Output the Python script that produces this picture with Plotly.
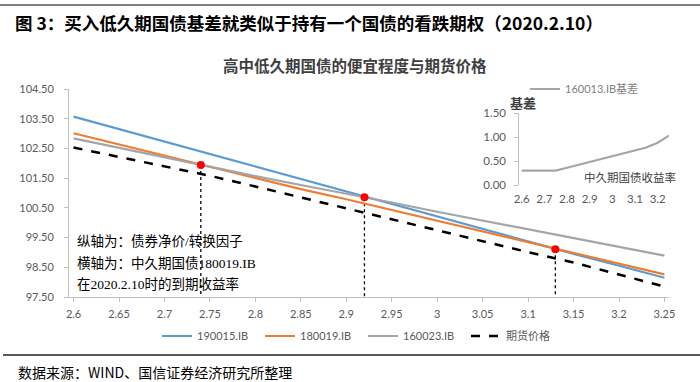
import plotly.graph_objects as go

# ---------------- data ----------------
yields = [2.60, 2.65, 2.70, 2.75, 2.80, 2.85, 2.90, 2.95, 3.00, 3.05, 3.10, 3.15, 3.20, 3.25]
bond_190015 = [103.57, 103.15, 102.72, 102.30, 101.88, 101.46, 101.03, 100.61, 100.19, 99.77, 99.36, 98.95, 98.55, 98.15]
bond_180019 = [103.01, 102.63, 102.25, 101.87, 101.50, 101.13, 100.79, 100.43, 100.07, 99.70, 99.33, 98.97, 98.61, 98.26]
bond_160023 = [102.84, 102.52, 102.20, 101.88, 101.57, 101.27, 100.98, 100.68, 100.37, 100.07, 99.77, 99.47, 99.18, 98.89]
futures_px = [102.53, 102.22, 101.90, 101.58, 101.22, 100.85, 100.48, 100.11, 99.74, 99.37, 99.01, 98.66, 98.26, 97.85]

switch_x = [2.74, 2.92, 3.13]
switch_y = [101.94, 100.86, 99.11]

basis_160013 = [0.30, 0.30, 0.30, 0.30, 0.36, 0.42, 0.48, 0.53, 0.59, 0.65, 0.71, 0.78, 0.88, 1.03]

x_ticks = [2.60, 2.65, 2.70, 2.75, 2.80, 2.85, 2.90, 2.95, 3.00, 3.05, 3.10, 3.15, 3.20, 3.25]
x_ticktext = ["2.6", "2.65", "2.7", "2.75", "2.8", "2.85", "2.9", "2.95", "3", "3.05", "3.1", "3.15", "3.2", "3.25"]
y_ticks = [97.5, 98.5, 99.5, 100.5, 101.5, 102.5, 103.5, 104.5]
y_ticktext = ["97.50", "98.50", "99.50", "100.50", "101.50", "102.50", "103.50", "104.50"]
inset_xticks = [2.6, 2.7, 2.8, 2.9, 3.0, 3.1, 3.2]
inset_xtext = ["2.6", "2.7", "2.8", "2.9", "3", "3.1", "3.2"]
inset_yticks = [0.0, 0.5, 1.0, 1.5]
inset_ytext = ["0.00", "0.50", "1.00", "1.50"]

# ---------------- layout geometry ----------------
W, H = 700, 382
L, R, T, B = 69, 31, 89, 85
PW, PH = W - L - R, H - T - B


def px(x):
    return (x - L) / PW


def py(y):
    return (H - B - y) / PH


TICK_COLOR = "#595959"
AXIS_COLOR = "#BFBFBF"
SANS = "Lato, Noto Sans CJK SC, sans-serif"
CJK = "Noto Sans CJK SC, sans-serif"
SERIF = "Liberation Serif, Noto Sans CJK SC, serif"

fig = go.Figure()

# vertical dotted guides
for xv, yv in zip(switch_x, switch_y):
    fig.add_trace(go.Scatter(x=[xv, xv], y=[yv, 97.5], mode="lines",
                             line=dict(color="black", width=1.3, dash="dot"),
                             showlegend=False, hoverinfo="skip"))

fig.add_trace(go.Scatter(x=yields, y=bond_190015, mode="lines", name="190015.IB",
                         line=dict(color="#5B9BD5", width=2.2)))
fig.add_trace(go.Scatter(x=yields, y=bond_180019, mode="lines", name="180019.IB",
                         line=dict(color="#ED7D31", width=2.2)))
fig.add_trace(go.Scatter(x=yields, y=bond_160023, mode="lines", name="160023.IB",
                         line=dict(color="#A5A5A5", width=2.2)))
fig.add_trace(go.Scatter(x=yields, y=futures_px, mode="lines", name="期货价格",
                         line=dict(color="black", width=2.5, dash="dash")))
fig.add_trace(go.Scatter(x=switch_x, y=switch_y, mode="markers",
                         marker=dict(color="#FF0000", size=8),
                         showlegend=False, hoverinfo="skip"))

# inset
fig.add_trace(go.Scatter(x=yields, y=basis_160013, mode="lines", name="160013.IB基差",
                         line=dict(color="#A5A5A5", width=2.2),
                         xaxis="x2", yaxis="y2", legend="legend2"))

fig.update_layout(
    width=W, height=H,
    margin=dict(l=L, r=R, t=T, b=B),
    paper_bgcolor="white", plot_bgcolor="white",
    font=dict(family=SANS, color=TICK_COLOR),
    xaxis=dict(range=[2.595, 3.255], tickvals=x_ticks, ticktext=x_ticktext,
               showline=True, linecolor=AXIS_COLOR, linewidth=1,
               ticks="outside", ticklen=4, tickcolor=AXIS_COLOR,
               showgrid=False, zeroline=False,
               tickfont=dict(size=11, color=TICK_COLOR), ticklabelstandoff=3),
    yaxis=dict(range=[97.5, 104.5], tickvals=y_ticks, ticktext=y_ticktext,
               showline=True, linecolor=AXIS_COLOR, linewidth=1,
               ticks="outside", ticklen=4, tickcolor=AXIS_COLOR,
               showgrid=False, zeroline=False,
               tickfont=dict(size=11, color=TICK_COLOR), ticklabelstandoff=8),
    xaxis2=dict(domain=[0.7505, 1.0], range=[2.5895, 3.25], anchor="y2",
                tickvals=inset_xticks, ticktext=inset_xtext,
                showline=False, ticks="", showgrid=False, zeroline=False,
                tickfont=dict(size=11.5, color=TICK_COLOR), ticklabelstandoff=5),
    yaxis2=dict(domain=[py(185), py(113)], range=[0, 1.5], anchor="x2",
                tickvals=inset_yticks, ticktext=inset_ytext,
                showline=True, linecolor=AXIS_COLOR, linewidth=1,
                ticks="outside", ticklen=4, tickcolor=AXIS_COLOR,
                showgrid=False, zeroline=False,
                tickfont=dict(size=11.5, color=TICK_COLOR), ticklabelstandoff=6),
    legend=dict(orientation="h", x=px(157), y=py(336), xanchor="left", yanchor="middle",
                font=dict(size=11, color=TICK_COLOR), itemwidth=30,
                entrywidth=58, entrywidthmode="pixels", bgcolor="rgba(0,0,0,0)"),
    legend2=dict(orientation="h", x=px(525), y=py(89), xanchor="left", yanchor="middle",
                 font=dict(size=11, color="#7F7F7F"), itemwidth=30,
                 bgcolor="rgba(0,0,0,0)"),
    showlegend=True,
)

# header / footer rules
fig.add_shape(type="line", xref="paper", yref="paper", x0=px(0), x1=px(700), y0=py(5), y1=py(5),
              line=dict(color="#7F7F7F", width=2))
fig.add_shape(type="line", xref="paper", yref="paper", x0=px(3), x1=px(700), y0=py(355), y1=py(355),
              line=dict(color="#595959", width=2))

annos = [
    dict(text="<b>图 3：买入低久期国债基差就类似于持有一个国债的看跌期权（2020.2.10）</b>",
         x=px(13), y=py(22), font=dict(family=CJK, size=17.5, color="black"), xanchor="left"),
    dict(text="<b>高中低久期国债的便宜程度与期货价格</b>",
         x=px(355), y=py(65), font=dict(family=CJK, size=15.5, color="#404040"), xanchor="center"),
    dict(text="数据来源：WIND、国信证券经济研究所整理",
         x=px(16), y=py(372), font=dict(family=CJK, size=14, color="black"), xanchor="left"),
    dict(text="纵轴为：债券净价/转换因子", x=px(75), y=py(241),
         font=dict(family=SERIF, size=13.5, color="black"), xanchor="left"),
    dict(text="横轴为：中久期国债180019.IB", x=px(75), y=py(263),
         font=dict(family=SERIF, size=13.5, color="black"), xanchor="left"),
    dict(text="在2020.2.10时的到期收益率", x=px(75), y=py(284),
         font=dict(family=SERIF, size=13.5, color="black"), xanchor="left"),
    dict(text="<b>基差</b>", x=px(508), y=py(102),
         font=dict(family=CJK, size=13, color="#404040"), xanchor="left"),
    dict(text="中久期国债收益率", x=px(678), y=py(177),
         font=dict(family=CJK, size=11.5, color="#404040"), xanchor="right"),
]
for a in annos:
    fig.add_annotation(xref="paper", yref="paper", showarrow=False, yanchor="middle", **a)

fig.write_html("out.html", config={"displayModeBar": False},
               post_script="document.body.style.margin='0';document.body.style.overflow='hidden';")
